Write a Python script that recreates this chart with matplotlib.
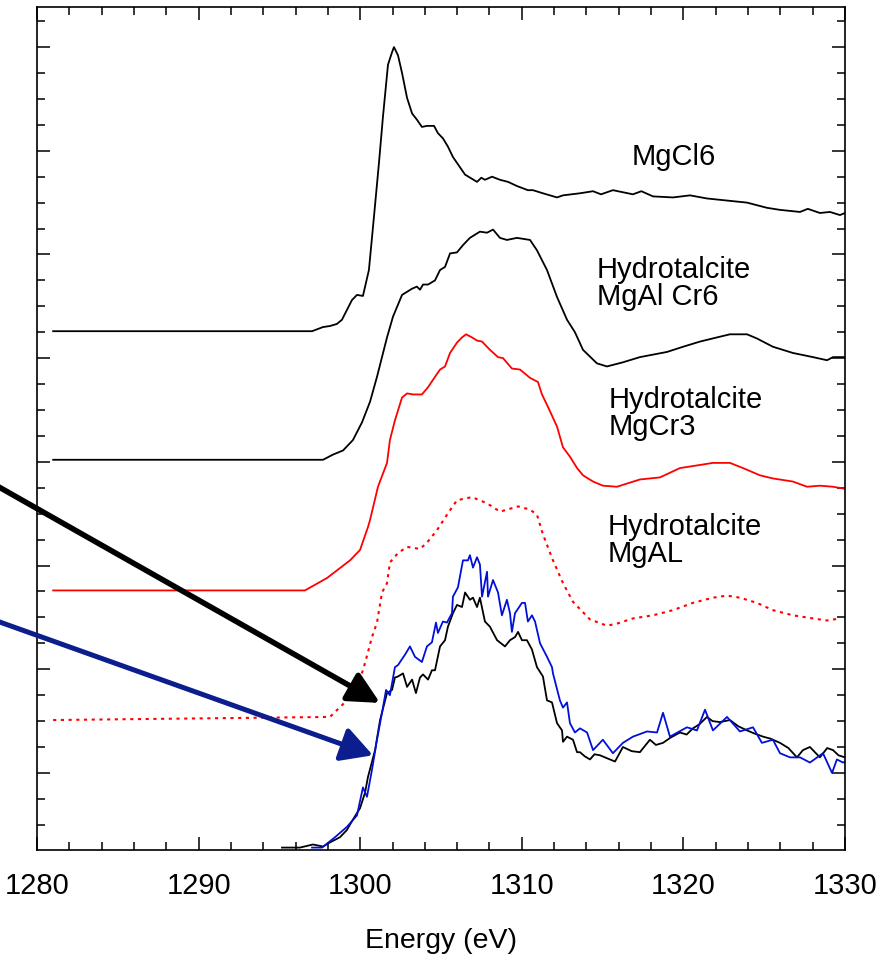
import matplotlib
matplotlib.use('Agg')
import matplotlib.pyplot as plt
from matplotlib.ticker import MultipleLocator

plt.rcParams['font.family'] = ['Liberation Sans', 'DejaVu Sans']

# Mg K-edge XANES, offset spectra (energy in eV, normalised intensity + offset)
e_mgcl6 = [1281.0, 1297.02, 1297.70, 1298.13, 1298.56, 1298.87, 1299.49, 1299.80, 1300.17, 1300.54,
           1300.85, 1301.16, 1301.41, 1301.72, 1301.97, 1302.09, 1302.34, 1302.59, 1302.90,
           1303.21, 1303.51, 1303.82, 1304.13, 1304.57, 1304.81, 1305.12, 1305.43, 1305.74, 1306.18,
           1306.49, 1307.23, 1307.50, 1307.72, 1308.16, 1308.65, 1309.15, 1309.70, 1310.38, 1310.69,
           1311.31, 1312.18, 1312.55, 1313.60, 1314.41, 1314.9, 1315.64, 1316.88, 1317.4, 1318.12,
           1319.36, 1320.41, 1321.46, 1322.70, 1323.94, 1325.17, 1325.98, 1327.22, 1327.7, 1328.45,
           1329.07, 1329.69, 1330.0]
i_mgcl6 = [4.26, 4.26, 4.30, 4.31, 4.33, 4.37, 4.56, 4.61, 4.60, 4.85,
           5.36, 5.88, 6.33, 6.83, 6.95, 7.00, 6.92, 6.75, 6.51,
           6.36, 6.30, 6.23, 6.24, 6.24, 6.17, 6.12, 6.04, 5.94, 5.84,
           5.77, 5.70, 5.74, 5.72, 5.75, 5.72, 5.70, 5.66, 5.62, 5.62,
           5.59, 5.55, 5.57, 5.59, 5.61, 5.58, 5.62, 5.58, 5.61, 5.56,
           5.55, 5.57, 5.54, 5.52, 5.50, 5.45, 5.43, 5.41, 5.44, 5.40,
           5.41, 5.38, 5.40]

e_cr6 = [1281.0, 1297.70, 1298.32, 1298.94, 1299.55, 1300.11, 1300.61, 1301.04, 1301.35, 1301.66,
         1302.03, 1302.59, 1302.90, 1303.21, 1303.51, 1303.70, 1303.89, 1304.20, 1304.63, 1304.94,
         1305.25, 1305.56, 1305.99, 1306.36, 1306.79, 1307.41, 1307.85, 1308.22, 1308.65, 1309.08,
         1309.70, 1310.51, 1310.94, 1311.56, 1312.18, 1312.80, 1313.29, 1313.79, 1314.65, 1315.27,
         1316.26, 1317.31, 1318.99, 1319.98, 1321.03, 1322.08, 1322.88, 1323.94, 1324.55, 1325.54,
         1326.78, 1328.02, 1328.89, 1329.26, 1330.0]
i_cr6 = [3.02, 3.02, 3.07, 3.11, 3.21, 3.38, 3.58, 3.82, 4.01, 4.20,
         4.40, 4.61, 4.64, 4.67, 4.69, 4.66, 4.71, 4.71, 4.75, 4.85,
         4.88, 5.01, 5.02, 5.09, 5.16, 5.22, 5.21, 5.24, 5.16, 5.14,
         5.16, 5.14, 5.04, 4.85, 4.59, 4.37, 4.25, 4.08, 3.95, 3.92,
         3.96, 4.01, 4.06, 4.11, 4.16, 4.20, 4.23, 4.23, 4.19, 4.11,
         4.05, 4.01, 3.98, 4.01, 4.01]

e_cr3 = [1281.0, 1296.58, 1297.95, 1299.37, 1299.99, 1300.48, 1300.61, 1301.10, 1301.66, 1301.84,
         1302.15, 1302.59, 1302.90, 1303.27, 1303.82, 1304.20, 1304.63, 1304.94, 1305.25, 1305.56,
         1305.99, 1306.30, 1306.55, 1306.92, 1307.23, 1307.54, 1308.03, 1308.53, 1308.84, 1309.39,
         1309.89, 1310.51, 1311.00, 1311.25, 1311.62, 1312.18, 1312.55, 1312.98, 1313.42, 1313.79,
         1314.41, 1315.02, 1315.89, 1316.70, 1317.31, 1318.55, 1319.79, 1321.03, 1321.83, 1322.88,
         1323.69, 1324.74, 1325.54, 1326.78, 1327.65, 1328.45, 1329.26, 1330.0]
i_cr3 = [1.76, 1.76, 1.88, 2.05, 2.15, 2.37, 2.44, 2.76, 2.99, 3.21,
         3.40, 3.62, 3.66, 3.65, 3.65, 3.72, 3.82, 3.89, 3.92, 4.05,
         4.15, 4.20, 4.23, 4.20, 4.17, 4.16, 4.08, 4.01, 4.00, 3.90,
         3.89, 3.81, 3.77, 3.65, 3.53, 3.34, 3.14, 3.05, 2.94, 2.87,
         2.81, 2.77, 2.76, 2.80, 2.83, 2.85, 2.94, 2.97, 2.99, 2.99,
         2.94, 2.87, 2.84, 2.81, 2.76, 2.77, 2.76, 2.74]

e_mgal = [1281.0, 1298.13, 1299.18, 1299.99, 1300.30, 1300.73, 1301.04, 1301.35, 1301.66, 1301.84,
          1302.34, 1302.90, 1303.70, 1304.13, 1304.75, 1305.37, 1305.99, 1306.92, 1307.85, 1308.65,
          1309.77, 1310.51, 1310.94, 1311.31, 1311.93, 1312.55, 1313.17, 1314.22, 1315.27, 1315.89,
          1316.88, 1318.12, 1319.36, 1320.59, 1321.83, 1322.70, 1323.50, 1324.55, 1325.54, 1326.78,
          1328.02, 1328.89, 1329.69]
i_mgal = [0.51, 0.54, 0.70, 0.90, 1.06, 1.31, 1.45, 1.74, 1.83, 2.03,
          2.12, 2.18, 2.16, 2.22, 2.34, 2.49, 2.63, 2.66, 2.60, 2.52,
          2.57, 2.54, 2.49, 2.30, 2.05, 1.83, 1.65, 1.48, 1.42, 1.44,
          1.49, 1.52, 1.57, 1.64, 1.69, 1.71, 1.69, 1.64, 1.57, 1.52,
          1.49, 1.47, 1.49]

# two measured samples, not offset (black and blue)
e_black = [1295.16, 1296.27, 1297.08, 1297.70, 1298.13, 1298.75, 1299.18, 1299.55, 1299.99, 1300.30,
           1300.48, 1300.92, 1301.23, 1301.66, 1301.97, 1302.15, 1302.34, 1302.65, 1302.90, 1303.21,
           1303.45, 1303.70, 1303.89, 1304.20, 1304.44, 1304.63, 1304.94, 1305.25, 1305.43, 1305.74,
           1305.99, 1306.30, 1306.49, 1306.79, 1306.98, 1307.23, 1307.41, 1307.72, 1308.03, 1308.47,
           1308.96, 1309.27, 1309.58, 1309.77, 1310.01, 1310.32, 1310.63, 1310.94, 1311.31, 1311.56,
           1311.87, 1312.18, 1312.49, 1312.55, 1312.80, 1313.17, 1313.42, 1313.60, 1313.9, 1314.22,
           1314.5, 1314.84, 1315.3, 1315.77, 1316.26, 1316.8, 1317.31, 1317.93, 1318.3, 1318.74,
           1319.2, 1319.79, 1320.2, 1320.59, 1321.0, 1321.46, 1321.8, 1322.26, 1322.88, 1323.4,
           1323.94, 1324.4, 1324.93, 1325.4, 1325.98, 1326.5, 1327.03, 1327.4, 1327.83, 1328.45,
           1328.9, 1329.26, 1329.6, 1330.0]
i_black = [-0.72, -0.72, -0.69, -0.71, -0.67, -0.62, -0.55, -0.45, -0.34, -0.19,
           -0.04, 0.22, 0.51, 0.77, 0.80, 0.92, 0.93, 0.96, 0.83, 0.90,
           0.77, 0.92, 0.95, 0.90, 0.99, 0.99, 1.22, 1.28, 1.41, 1.54,
           1.62, 1.60, 1.74, 1.67, 1.69, 1.60, 1.69, 1.46, 1.41, 1.28,
           1.22, 1.28, 1.31, 1.36, 1.28, 1.28, 1.19, 1.02, 0.93, 0.70,
           0.68, 0.48, 0.41, 0.30, 0.35, 0.32, 0.20, 0.20, 0.16, 0.13,
           0.18, 0.17, 0.14, 0.11, 0.25, 0.21, 0.20, 0.32, 0.27, 0.29,
           0.34, 0.39, 0.37, 0.43, 0.47, 0.54, 0.50, 0.49, 0.51, 0.45,
           0.41, 0.38, 0.35, 0.33, 0.29, 0.24, 0.15, 0.22, 0.25, 0.15,
           0.24, 0.22, 0.17, 0.15]

e_blue = [1297.02, 1297.64, 1298.44, 1299.18, 1299.80, 1300.17, 1300.42, 1300.73, 1301.04, 1301.35,
          1301.60, 1301.84, 1302.15, 1302.34, 1302.77, 1303.08, 1303.39, 1303.82, 1304.13, 1304.44,
          1304.69, 1304.81, 1305.12, 1305.37, 1305.68, 1305.74, 1306.05, 1306.36, 1306.67, 1306.79,
          1306.98, 1307.23, 1307.41, 1307.54, 1307.85, 1307.91, 1308.22, 1308.53, 1308.77, 1309.08,
          1309.27, 1309.39, 1309.58, 1310.01, 1310.20, 1310.38, 1310.63, 1310.82, 1311.13, 1311.56,
          1311.87, 1311.93, 1312.36, 1312.55, 1312.80, 1312.98, 1313.29, 1313.60, 1314.04, 1314.41,
          1315.02, 1315.64, 1316.26, 1316.88, 1317.75, 1318.37, 1318.74, 1319.17, 1320.22, 1320.84,
          1321.34, 1321.83, 1322.70, 1323.50, 1324.31, 1324.86, 1325.54, 1325.98, 1326.60, 1327.22,
          1327.83, 1328.64, 1329.20, 1329.50, 1329.88, 1330.0]
i_blue = [-0.72, -0.72, -0.62, -0.52, -0.41, -0.14, -0.23, 0.03, 0.32, 0.58,
          0.80, 0.75, 1.02, 1.04, 1.14, 1.22, 1.12, 1.07, 1.22, 1.26,
          1.45, 1.35, 1.46, 1.45, 1.54, 1.70, 1.79, 2.05, 2.05, 2.10,
          1.98, 2.08, 2.01, 1.70, 1.94, 1.70, 1.86, 1.74, 1.52, 1.67,
          1.54, 1.36, 1.54, 1.64, 1.64, 1.46, 1.52, 1.46, 1.25, 1.12,
          1.02, 0.96, 0.70, 0.63, 0.68, 0.48, 0.39, 0.43, 0.39, 0.22,
          0.32, 0.19, 0.29, 0.35, 0.40, 0.39, 0.58, 0.35, 0.44, 0.41,
          0.61, 0.41, 0.54, 0.40, 0.44, 0.29, 0.32, 0.19, 0.15, 0.15,
          0.10, 0.19, 0.00, 0.13, 0.10, 0.11]

labels = ["MgCl6", "Hydrotalcite\nMgAl Cr6", "Hydrotalcite\nMgCr3", "Hydrotalcite\nMgAL"]
label_pos = [(1316.8, 5.94), (1314.65, 4.72), (1315.4, 3.47), (1315.33, 2.24)]

fig = plt.figure(figsize=(8.81, 9.65), dpi=100)
ax = fig.add_axes([0.042, 0.1192, 0.9171, 0.8736])

ax.plot(e_mgcl6, i_mgcl6, color='black', lw=1.3)
ax.plot(e_cr6, i_cr6, color='black', lw=1.3)
ax.plot(e_cr3, i_cr3, color='#ff0000', lw=1.3)
ax.plot(e_mgal, i_mgal, color='#ff0000', lw=1.5, linestyle=(0, (1.5, 2.2)))
ax.plot(e_black, i_black, color='black', lw=1.3)
ax.plot(e_blue, i_blue, color='#0010d8', lw=1.3)

for txt, (x, y) in zip(labels, label_pos):
    ax.text(x, y, txt, fontsize=21, ha='left', va='center', linespacing=0.95)

# arrows pointing at the edge of the two samples
ax.annotate('', xy=(1301.23, 0.675), xytext=(1271.5, 3.30), annotation_clip=False,
            arrowprops=dict(arrowstyle='-|>,head_length=1.0,head_width=0.5', mutation_scale=19,
                            lw=4, color='black', shrinkA=0, shrinkB=0))
ax.annotate('', xy=(1300.79, 0.17), xytext=(1271.5, 1.80), annotation_clip=False,
            arrowprops=dict(arrowstyle='-|>,head_length=1.0,head_width=0.55', mutation_scale=19,
                            lw=3.6, color='#0c1e8e', shrinkA=0, shrinkB=0))

ax.set_xlim(1280, 1330)
ax.set_ylim(-0.743, 7.387)
ax.xaxis.set_major_locator(MultipleLocator(10))
ax.xaxis.set_minor_locator(MultipleLocator(2))
ax.yaxis.set_major_locator(MultipleLocator(1))
ax.yaxis.set_minor_locator(MultipleLocator(0.25))
ax.tick_params(which='both', direction='in', top=True, right=True, width=1.1)
ax.tick_params(which='major', length=9.5)
ax.tick_params(which='minor', length=5.5)
ax.tick_params(axis='x', labelsize=21, pad=16)
ax.tick_params(axis='y', labelleft=False)
for s in ax.spines.values():
    s.set_linewidth(1.2)
ax.set_xlabel("Energy (eV)", fontsize=20.5, labelpad=20)

fig.savefig("out.png", dpi=100)
